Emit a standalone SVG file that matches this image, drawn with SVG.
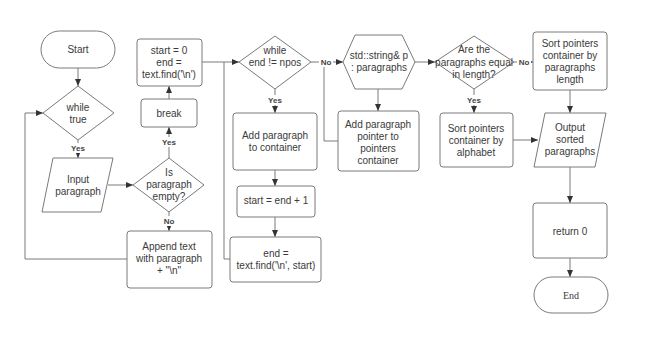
<svg xmlns="http://www.w3.org/2000/svg" width="649" height="345" viewBox="0 0 649 345">
  <defs>
    <marker id="arrow" markerUnits="userSpaceOnUse" markerWidth="8" markerHeight="8" refX="7" refY="4" orient="auto">
      <path d="M0,1 L7,4 L0,7 Z" fill="#333"/>
    </marker>
    <style>
      .shape { fill: #fff; stroke: #7a7a7a; stroke-width: 1; }
      .conn { fill: none; stroke: #7a7a7a; stroke-width: 1; }
      .arr { marker-end: url(#arrow); }
      text { font-family: "Liberation Sans", Arial, sans-serif; font-size: 10px; fill: #3a3a3a; text-anchor: middle; dominant-baseline: central; }
      .lbl { font-size: 8px; font-weight: bold; fill: #444; }
      .serif { font-family: "Liberation Serif", "Times New Roman", serif; }
    </style>
  </defs>
  <rect width="649" height="345" fill="#fff"/>

  <!-- connectors -->
  <g id="connectors">
    <path class="conn arr" d="M78,68 L78,86"/>
    <path class="conn arr" d="M78,140 L78,158"/>
    <path class="conn arr" d="M108,185 L133,185"/>
    <path class="conn arr" d="M169,212 L169,231"/>
    <path class="conn arr" d="M127,259 L25,259 L25,113 L43,113"/>
    <path class="conn arr" d="M169,158 L169,127"/>
    <path class="conn arr" d="M169,99 L169,86"/>
    <path class="conn arr" d="M202,62 L239,62"/>
    <path class="conn" d="M230,259 L224,259 L224,62"/>
    <path class="conn arr" d="M275,89 L275,113"/>
    <path class="conn arr" d="M275,170 L275,186"/>
    <path class="conn arr" d="M275,217 L275,237"/>
    <path class="conn arr" d="M311,62 L343,62"/>
    <path class="conn" d="M338,141 L324,141 L324,62"/>
    <path class="conn arr" d="M378,89 L378,111"/>
    <path class="conn arr" d="M415,62 L435,62"/>
    <path class="conn arr" d="M474,89 L474,113"/>
    <path class="conn arr" d="M514,62 L533,62"/>
    <path class="conn arr" d="M513,140 L538,140"/>
    <path class="conn arr" d="M570,90 L570,113"/>
    <path class="conn arr" d="M570,167 L570,203"/>
    <path class="conn arr" d="M570,258 L570,277"/>

    <!-- branch labels -->
    <rect x="69" y="143" width="18" height="10" fill="#fff"/>
    <text class="lbl" x="78" y="148">Yes</text>
    <rect x="160" y="137" width="18" height="10" fill="#fff"/>
    <text class="lbl" x="169" y="142">Yes</text>
    <rect x="162" y="216" width="14" height="10" fill="#fff"/>
    <text class="lbl" x="169" y="221">No</text>
    <rect x="266" y="95" width="18" height="10" fill="#fff"/>
    <text class="lbl" x="275" y="100">Yes</text>
    <rect x="319" y="57" width="14" height="10" fill="#fff"/>
    <text class="lbl" x="326" y="62">No</text>
    <rect x="465" y="95" width="18" height="10" fill="#fff"/>
    <text class="lbl" x="474" y="100">Yes</text>
    <rect x="517" y="57" width="14" height="10" fill="#fff"/>
    <text class="lbl" x="524" y="62">No</text>
  </g>

  <!-- nodes -->
  <g id="start">
    <rect class="shape" x="41" y="31" width="74" height="37" rx="18.5"/>
    <text x="78" y="49">Start</text>
  </g>
  <g id="while-true">
    <polygon class="shape" points="78,86 114,113 78,140 43,113"/>
    <text x="78" y="107">while</text>
    <text x="78" y="119">true</text>
  </g>
  <g id="input-paragraph">
    <polygon class="shape" points="53,158 113,158 101,212 42,212"/>
    <text x="78" y="179">Input</text>
    <text x="78" y="191">paragraph</text>
  </g>
  <g id="is-empty">
    <polygon class="shape" points="169,158 204,185 169,212 133,185"/>
    <text x="169" y="172">Is</text>
    <text x="169" y="184">paragraph</text>
    <text x="169" y="196">empty?</text>
  </g>
  <g id="append">
    <rect class="shape" x="127" y="231" width="85" height="57" rx="3"/>
    <text x="169" y="246">Append text</text>
    <text x="169" y="258">with paragraph</text>
    <text x="169" y="270">+ "\n"</text>
  </g>
  <g id="break">
    <rect class="shape" x="141" y="99" width="56" height="28" rx="3"/>
    <text x="169" y="113">break</text>
  </g>
  <g id="init">
    <rect class="shape" x="137" y="39" width="65" height="47" rx="3"/>
    <text x="169" y="50">start = 0</text>
    <text x="169" y="62">end =</text>
    <text x="169" y="74">text.find('\n')</text>
  </g>
  <g id="while-npos">
    <polygon class="shape" points="275,36 311,62 275,89 239,62"/>
    <text x="275" y="50">while</text>
    <text x="275" y="62">end != npos</text>
  </g>
  <g id="add-paragraph">
    <rect class="shape" x="233" y="113" width="84" height="57" rx="3"/>
    <text x="275" y="135">Add paragraph</text>
    <text x="275" y="147">to container</text>
  </g>
  <g id="advance-start">
    <rect class="shape" x="237" y="186" width="78" height="31" rx="3"/>
    <text x="276" y="200">start = end + 1</text>
  </g>
  <g id="find-next">
    <rect class="shape" x="230" y="237" width="91" height="45" rx="3"/>
    <text x="276" y="253">end =</text>
    <text x="276" y="265">text.find('\n', start)</text>
  </g>
  <g id="for-each">
    <polygon class="shape" points="343,62 355,35 402,35 415,62 402,89 355,89"/>
    <text x="379" y="55">std::string&amp; p</text>
    <text x="379" y="67">: paragraphs</text>
  </g>
  <g id="add-pointer">
    <rect class="shape" x="338" y="111" width="81" height="60" rx="3"/>
    <text x="378" y="124">Add paragraph</text>
    <text x="378" y="136">pointer to</text>
    <text x="378" y="148">pointers</text>
    <text x="378" y="160">container</text>
  </g>
  <g id="equal-length">
    <polygon class="shape" points="474,36 514,62 474,89 435,62"/>
    <text x="474" y="49">Are the</text>
    <text x="474" y="62">paragraphs equal</text>
    <text x="474" y="74">in length?</text>
  </g>
  <g id="sort-alphabet">
    <rect class="shape" x="440" y="113" width="73" height="54" rx="3"/>
    <text x="476" y="128">Sort pointers</text>
    <text x="476" y="140">container by</text>
    <text x="476" y="152">alphabet</text>
  </g>
  <g id="sort-length">
    <rect class="shape" x="533" y="32" width="74" height="58" rx="3"/>
    <text x="570" y="43">Sort pointers</text>
    <text x="570" y="55">container by</text>
    <text x="570" y="67">paragraphs</text>
    <text x="570" y="79">length</text>
  </g>
  <g id="output">
    <polygon class="shape" points="545,113 606,113 595,167 534,167"/>
    <text x="570" y="127">Output</text>
    <text x="570" y="139">sorted</text>
    <text x="570" y="151">paragraphs</text>
  </g>
  <g id="return">
    <rect class="shape" x="533" y="203" width="74" height="55" rx="3"/>
    <text x="570" y="231">return 0</text>
  </g>
  <g id="end">
    <rect class="shape" x="534" y="277" width="74" height="36" rx="18"/>
    <text class="serif" x="571" y="295">End</text>
  </g>
</svg>
